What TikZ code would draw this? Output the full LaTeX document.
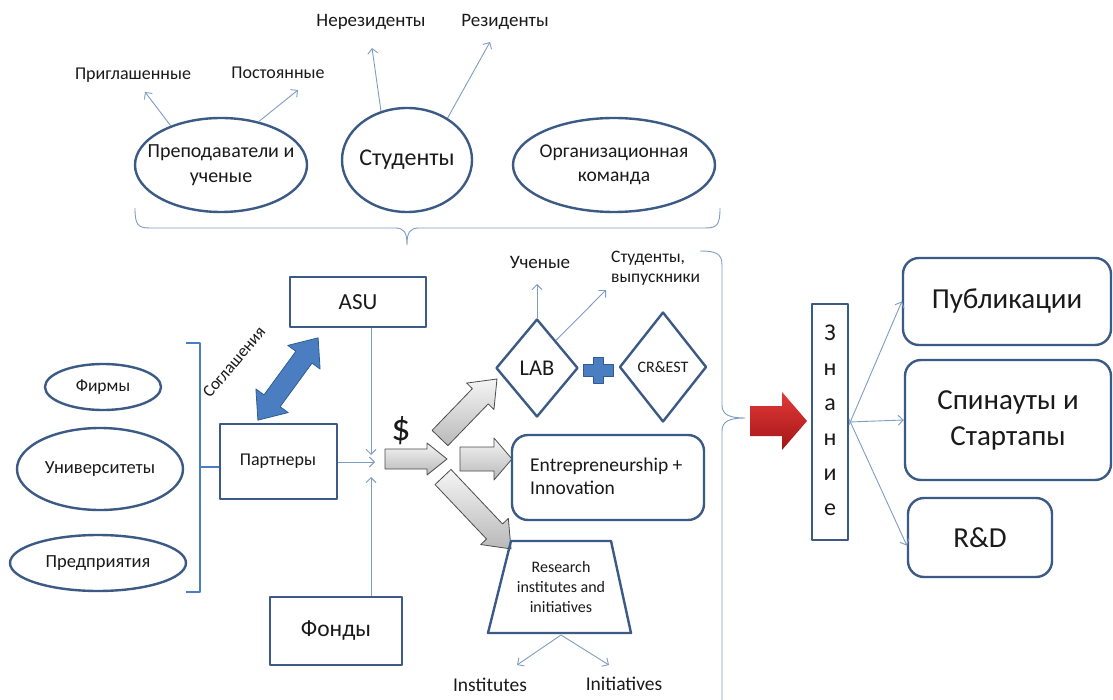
\documentclass[tikz,border=0pt]{standalone}
\usepackage{fontspec}
\setmainfont{Carlito}
\usetikzlibrary{shapes.geometric,arrows.meta,calc}
\definecolor{outl}{HTML}{3B5A85}
\definecolor{conn}{HTML}{7F9DC3}
\definecolor{bluef}{HTML}{4A7EC0}
\definecolor{bluel}{HTML}{2F5C96}
\definecolor{txt}{HTML}{1A1A1A}
\definecolor{redt}{HTML}{E23A3A}
\definecolor{redb}{HTML}{A31515}
\newcommand\fs[2]{\fontsize{#1}{#2}\selectfont}
\newcommand\myblockarrow[8]{\path[#1,shift={(#2,#3)},rotate=#4] (0,#6) -- ({#5-#8},#6) -- ({#5-#8},#7) -- (#5,0) -- ({#5-#8},-#7) -- ({#5-#8},-#6) -- (0,-#6) -- cycle;}
\tikzset{
  ell/.style={ellipse, draw=outl, line width=2.4pt, inner sep=0pt, align=center, text=txt},
  box/.style={rectangle, draw=outl, line width=2pt, inner sep=0pt, align=center, text=txt},
  rbox/.style={rectangle, rounded corners=16pt, draw=outl, line width=2.4pt, inner sep=0pt, align=center, text=txt},
  dia/.style={diamond, draw=outl, line width=2.4pt, inner sep=0pt, align=center, text=txt},
  lbl/.style={inner sep=0pt, align=center, text=txt},
  conn/.style={draw=conn, line width=0.9pt, -{Straight Barb[length=5pt,width=10pt]}},
  brace/.style={draw=conn, line width=0.9pt},
  gblock/.style={draw=gray!60!black, line width=0.8pt, top color=gray!8, bottom color=gray!55},
  rblock/.style={top color=redt, bottom color=redb},
  bblock/.style={fill=bluef, draw=bluel, line width=0.8pt}
}
\begin{document}
\begin{tikzpicture}[x=1pt,y=-1pt,line join=round]
\useasboundingbox[fill=white] (0,0) rectangle (1113,700);

% top ellipses
\node[ell, minimum width=172, minimum height=94] (prep) at (221,165) {};
\node[lbl, font=\fs{20}{25}] (prept) at (prep.center) {Преподаватели и\\ученые};
\node[ell, minimum width=130, minimum height=104] (stud) at (407,160) {};
\node[lbl, font=\fs{24}{28}] (studt) at (stud.center) {Студенты};
\node[ell, minimum width=202, minimum height=94] (org) at (614,165) {};
\node[lbl, font=\fs{19.5}{24}] (orgt) at (org.center) {Организационная\\команда};

\node[lbl, font=\fs{18}{21}] (prig) at (133,75) {Приглашенные};
\node[lbl, font=\fs{18}{21}] (post) at (278,73) {Постоянные};
\node[lbl, font=\fs{19}{22}] (nerez) at (371,22) {Нерезиденты};
\node[lbl, font=\fs{19}{22}] (rez) at (505,22) {Резиденты};
\coordinate (prigE) at (145,92);
\coordinate (postE) at (298,90);
\coordinate (nerezE) at (372,48);
\coordinate (rezE) at (490,42);
\draw[conn] (prep.142) -- (prigE);
\draw[conn] (prep.49) -- (postE);
\draw[conn] (stud.118) -- (nerezE);
\draw[conn] (stud.46) -- (rezE);

% top brace
\draw[brace] (135,208) .. controls (135,225) and (138,228) .. (150,228) -- (395,228) .. controls (404,228) and (407,232) .. (407,245)
  .. controls (407,232) and (410,228) .. (419,228) -- (705,228) .. controls (717,228) and (720,225) .. (720,208);

% left ellipses and bracket
\node[ell, minimum width=116, minimum height=46] (firm) at (103,387) {};
\node[lbl, font=\fs{17.5}{21}] (firmt) at (firm.center) {Фирмы};
\node[ell, minimum width=166, minimum height=82] (univ) at (100,469) {};
\node[lbl, font=\fs{18.5}{22}] (univt) at (univ.center) {Университеты};
\node[ell, minimum width=176, minimum height=56] (pred) at (98,563) {};
\node[lbl, font=\fs{18.5}{22}] (predt) at (pred.center) {Предприятия};
\draw[draw=bluef, line width=2.5pt] (186,343) -- (200,343) -- (200,592) -- (186,592);
\draw[draw=bluef, line width=2.5pt] (200,467) -- (219,467);

% middle boxes
\node[box, minimum width=136, minimum height=50, font=\fs{23}{27}] (asu) at (358,302) {ASU};
\node[box, minimum width=117, minimum height=75, font=\fs{18}{22}] (part) at (278,461) {Партнеры};
\node[box, minimum width=132, minimum height=68, font=\fs{23.5}{28}] (fond) at (336,631) {Фонды};
\coordinate (jt) at (371,455);
\coordinate (jb) at (371,477);
\coordinate (jl) at (375,462);
\draw[conn] (asu.south -| jt) -- (jt);
\draw[conn] (fond.north -| jb) -- (jb);
\draw[conn] (part.east |- jl) -- (jl);

% double arrow
\path[bblock, shift={(288,379)}, rotate=53.8] (-51,0) -- (-27,-20) -- (-27,-10) -- (27,-10) -- (27,-20) -- (51,0) -- (27,20) -- (27,10) -- (-27,10) -- (-27,20) -- cycle;
\node[lbl, rotate=50, font=\fs{17}{20}] (sogl) at (234,362) {Соглашения};

\node[lbl, font=\fs{38}{44}] (dollar) at (401,431) {\$};

% gray block arrows
\myblockarrow{gblock}{385}{459}{0}{62}{10}{16}{20}
\myblockarrow{gblock}{440}{438}{46}{82}{11}{19}{24}
\myblockarrow{gblock}{460}{459}{0}{52}{12}{21}{18}
\myblockarrow{gblock}{443}{477}{-46.6}{99}{11}{19}{24}

% LAB + CR&EST
\node[dia, minimum width=82, minimum height=98, font=\fs{22.5}{26}] (lab) at (537,368) {LAB};
\node[dia, minimum width=87, minimum height=110, font=\fs{16}{19}] (crest) at (663,367) {CR\&EST};
\path[bblock] (583,364) -- (593,364) -- (593,357) -- (603,357) -- (603,364) -- (613,364) -- (613,376) -- (603,376) -- (603,383) -- (593,383) -- (593,376) -- (583,376) -- cycle;
\node[lbl, font=\fs{19}{22}] (uch) at (540,262) {Ученые};
\node[lbl, align=left, anchor=west, font=\fs{17.5}{20}] (stv) at (611,268) {Студенты,\\выпускники};
\coordinate (uchE) at (537,284);
\coordinate (stvE) at (606,290);
\draw[conn] (lab.north) -- (uchE);
\draw[conn] ($(lab.north)!0.45!(lab.east)$) -- (stvE);

% Entrepreneurship
\node[rbox, minimum width=192, minimum height=85] (ent) at (608,477.5) {};
\node[lbl, align=left, anchor=west, font=\fs{19.5}{23}] (entt) at (530,476) {Entrepreneurship +\\Innovation};

% trapezium
\path[draw=outl, line width=2.4pt] (511,541) -- (611,541) -- (631,633) -- (488,633) -- cycle;
\node[lbl, font=\fs{16}{20}] (res) at (561,587) {Research\\institutes and\\initiatives};
\coordinate (resB) at (561,635);
\coordinate (instE) at (517,665);
\coordinate (initE) at (609,665);
\draw[conn] (resB) -- (instE);
\draw[conn] (resB) -- (initE);
\node[lbl, font=\fs{19.5}{23}] (inst) at (490,685) {Institutes};
\node[lbl, font=\fs{19.5}{23}] (init) at (624,684) {Initiatives};

% right brace
\draw[brace] (700,251) .. controls (715,251) and (722,253) .. (722,265) -- (722,405) .. controls (722,415) and (730,418) .. (745,418)
  .. controls (730,418) and (722,421) .. (722,431) -- (722,700);

% red arrow
\myblockarrow{rblock}{750}{421}{0}{57}{15}{29}{25}

% Znanie
\node[box, minimum width=36, minimum height=235] (zn) at (830,422) {};
\node[lbl, font=\fs{24}{35}] (znt) at (830,420) {З\\н\\а\\н\\и\\е};

% right boxes
\node[rbox, minimum width=208, minimum height=87, font=\fs{29}{34}] (pub) at (1007,301.5) {Публикации};
\node[rbox, minimum width=206, minimum height=120, font=\fs{29}{36}] (spin) at (1008,420) {Спинауты и\\Стартапы};
\node[rbox, minimum width=144, minimum height=79, font=\fs{29}{34}] (rd) at (980,537.5) {R\&D};
\draw[conn] ([yshift=-3]zn.east) -- (pub.west);
\draw[conn] (zn.east) -- (spin.west);
\draw[conn] ([yshift=3]zn.east) -- ([yshift=-8]rd.west);
\end{tikzpicture}
\end{document}
